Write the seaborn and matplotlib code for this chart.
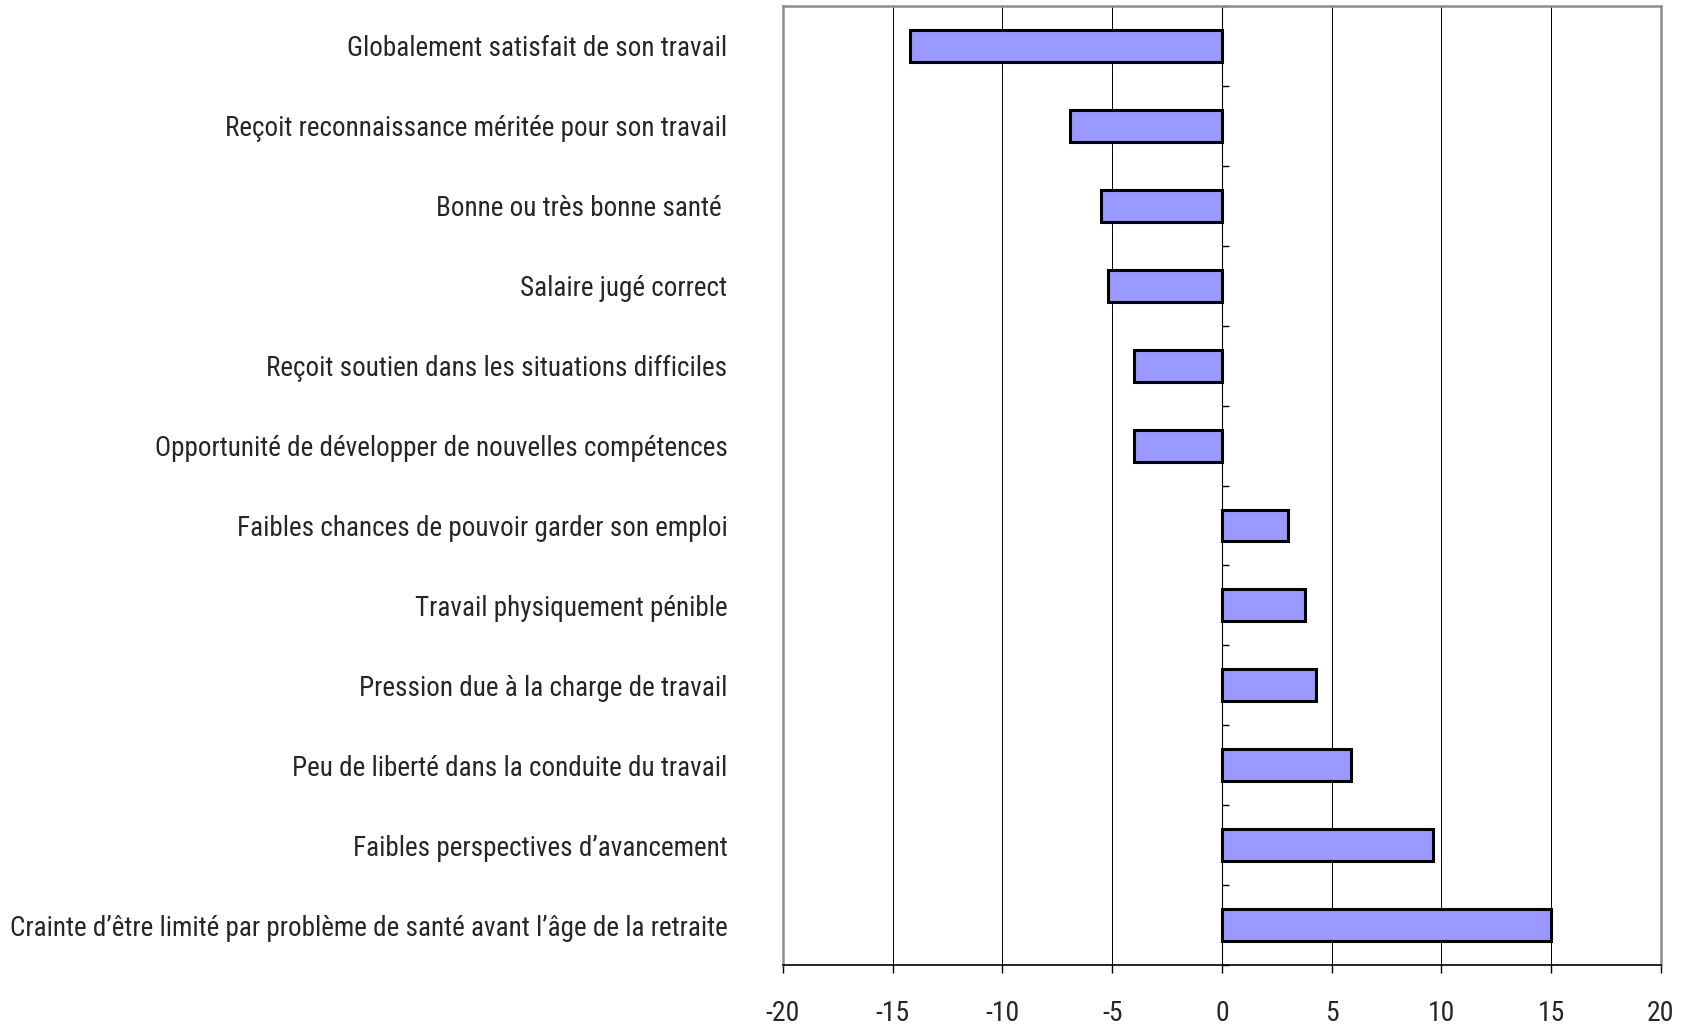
import pandas as pd
import matplotlib
matplotlib.use("Agg")
import matplotlib.pyplot as plt
import seaborn as sns

# Chart data
categories = [
    "Globalement satisfait de son travail",
    "Reçoit reconnaissance méritée pour son travail",
    "Bonne ou très bonne santé ",
    "Salaire jugé correct",
    "Reçoit soutien dans les situations difficiles",
    "Opportunité de développer de nouvelles compétences",
    "Faibles chances de pouvoir garder son emploi",
    "Travail physiquement pénible",
    "Pression due à la charge de travail",
    "Peu de liberté dans la conduite du travail",
    "Faibles perspectives d\u2019avancement",
    "Crainte d\u2019être limité par problème de santé avant l\u2019âge de la retraite",
]
values = [-14.2, -6.9, -5.5, -5.2, -4.0, -4.0, 3.0, 3.8, 4.3, 5.9, 9.6, 15.0]
x_ticks = [-20, -15, -10, -5, 0, 5, 10, 15, 20]

df = pd.DataFrame({"item": categories, "value": values})

sns.set_style("white")
plt.rcParams["font.family"] = ["Roboto Condensed", "DejaVu Sans"]

fig = plt.figure(figsize=(16.93, 10.24), dpi=100)
ax = fig.add_axes([0.4625, 0.0576, 0.981 - 0.4625, 0.9941 - 0.0576])

sns.barplot(data=df, x="value", y="item", orient="h", color="#9999FF",
            saturation=1, edgecolor="black", linewidth=2.2, width=0.4, ax=ax)

ax.set_xlim(-20, 20)
ax.set_ylim(len(categories) - 0.5, -0.5)
ax.set_xticks(x_ticks)
ax.set_xticklabels([str(t) for t in x_ticks])
ax.set_xlabel("")
ax.set_ylabel("")

# vertical gridlines
ax.grid(axis="x", color="black", linewidth=0.7)
ax.set_axisbelow(True)

# frame: gray except the bottom value axis
for side in ["left", "top", "right"]:
    ax.spines[side].set_color("#8c8c8c")
    ax.spines[side].set_linewidth(1.8)
ax.spines["bottom"].set_color("black")
ax.spines["bottom"].set_linewidth(1.2)

ax.tick_params(axis="x", direction="out", length=6, width=1, color="black",
               bottom=True, labelsize=20, pad=19)
ax.tick_params(axis="y", length=0, labelsize=19.5, pad=40)

# category axis crossing at zero, with tick marks between categories
cat_axis = ax.secondary_yaxis(0.5)
cat_axis.set_yticks([i - 0.5 for i in range(len(categories) + 1)])
cat_axis.set_yticklabels([])
cat_axis.spines["left"].set_color("black")
cat_axis.spines["left"].set_linewidth(1.0)
cat_axis.tick_params(axis="y", direction="out", length=5, width=1, color="black")

fig.savefig("out.png", dpi=100)
